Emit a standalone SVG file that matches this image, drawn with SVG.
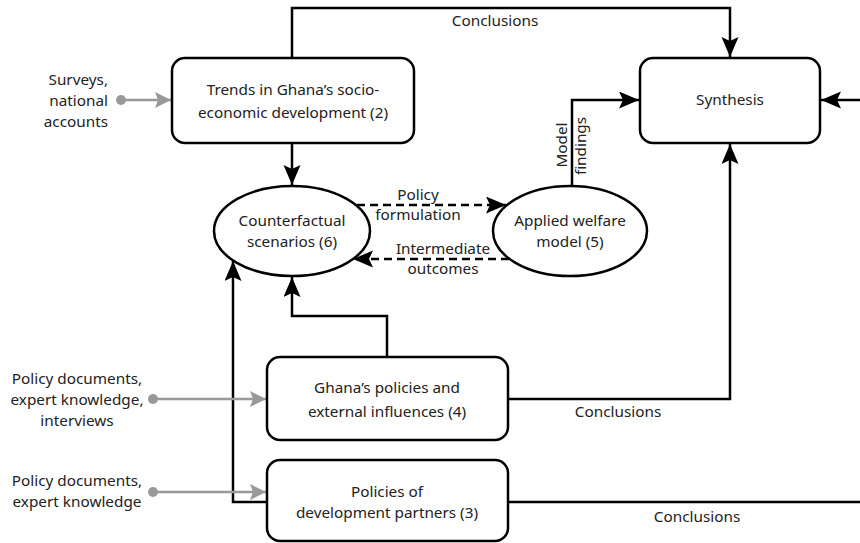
<svg xmlns="http://www.w3.org/2000/svg" width="860" height="543" viewBox="0 0 860 543">
<style>
  .box{fill:#fff;stroke:#000;stroke-width:2.5}
  .t{font-family:"Noto Sans","Open Sans",sans-serif;font-size:15.3px;fill:#222;text-anchor:middle}
  .tr{font-family:"Noto Sans","Open Sans",sans-serif;font-size:15.3px;fill:#222;text-anchor:end}
  .c{fill:none;stroke:#000;stroke-width:2.5}
  .d{fill:none;stroke:#000;stroke-width:2.5;stroke-dasharray:8 5}
  .g{fill:none;stroke:#999;stroke-width:2.5}
</style>
<defs>
  <marker id="ah" markerUnits="userSpaceOnUse" markerWidth="22" markerHeight="18" refX="20" refY="8.5" orient="auto">
    <path d="M0,0 L20,8.5 L0,17 L4,8.5 z" fill="#000"/>
  </marker>
  <marker id="gh" markerUnits="userSpaceOnUse" markerWidth="18" markerHeight="18" refX="16" refY="8" orient="auto">
    <path d="M0,0 L16,8 L0,16 L3,8 z" fill="#999"/>
  </marker>
  <marker id="gd" markerUnits="userSpaceOnUse" markerWidth="12" markerHeight="12" refX="6" refY="6" orient="auto">
    <circle cx="6" cy="6" r="5" fill="#999"/>
  </marker>
</defs>

<g id="connectors">
  <path class="c" d="M292,58 V8 H730 V57" marker-end="url(#ah)"/>
  <path class="c" d="M508,399 H730 V144" marker-end="url(#ah)"/>
  <path class="c" d="M572,186 V100 H639" marker-end="url(#ah)"/>
  <path class="c" d="M860,100 H821" marker-end="url(#ah)"/>
  <path class="c" d="M292,143 V185" marker-end="url(#ah)"/>
  <path class="c" d="M387,357 V316 H292 V277" marker-end="url(#ah)"/>
  <path class="c" d="M267,502 H233 V261" marker-end="url(#ah)"/>
  <path class="c" d="M508,502 H860"/>
  <path class="d" d="M357,205 H506" marker-end="url(#ah)"/>
  <path class="d" d="M509,259 H353" marker-end="url(#ah)"/>
  <path class="g" d="M121,100 H171" marker-start="url(#gd)" marker-end="url(#gh)"/>
  <path class="g" d="M153,399 H266" marker-start="url(#gd)" marker-end="url(#gh)"/>
  <path class="g" d="M153,492 H266" marker-start="url(#gd)" marker-end="url(#gh)"/>
  <text class="t" x="495" y="26">Conclusions</text>
  <text class="t" x="618" y="417">Conclusions</text>
  <text class="t" x="697" y="522">Conclusions</text>
  <text class="t" x="418" y="200">Policy</text>
  <text class="t" x="418" y="220">formulation</text>
  <text class="t" x="443" y="254">Intermediate</text>
  <text class="t" x="443" y="274">outcomes</text>
  <text class="t" transform="translate(567,145) rotate(-90)">Model</text>
  <text class="t" transform="translate(586,146) rotate(-90)">findings</text>
</g>

<g id="src-surveys">
  <text class="tr" x="108" y="85">Surveys,</text>
  <text class="tr" x="108" y="106">national</text>
  <text class="tr" x="108" y="127">accounts</text>
</g>
<g id="src-policy1">
  <text class="t" x="77" y="384">Policy documents,</text>
  <text class="t" x="77" y="405">expert knowledge,</text>
  <text class="t" x="77" y="426">interviews</text>
</g>
<g id="src-policy2">
  <text class="t" x="77" y="486">Policy documents,</text>
  <text class="t" x="77" y="507">expert knowledge</text>
</g>

<g id="trends">
  <rect class="box" x="172" y="58" width="242" height="85" rx="13"/>
  <text class="t" x="293" y="95">Trends in Ghana’s socio-</text>
  <text class="t" x="293" y="118">economic development (2)</text>
</g>
<g id="synthesis">
  <rect class="box" x="640" y="58" width="180" height="85" rx="13"/>
  <text class="t" x="730" y="105">Synthesis</text>
</g>
<g id="counterfactual">
  <ellipse class="box" cx="292" cy="231" rx="78" ry="45"/>
  <text class="t" x="292" y="226">Counterfactual</text>
  <text class="t" x="292" y="247">scenarios (6)</text>
</g>
<g id="welfare">
  <ellipse class="box" cx="570" cy="231" rx="77" ry="45"/>
  <text class="t" x="570" y="226">Applied welfare</text>
  <text class="t" x="570" y="247">model (5)</text>
</g>
<g id="ghana-policies">
  <rect class="box" x="267" y="357" width="241" height="83" rx="13"/>
  <text class="t" x="387" y="393">Ghana’s policies and</text>
  <text class="t" x="387" y="417">external influences (4)</text>
</g>
<g id="dev-partners">
  <rect class="box" x="267" y="460" width="241" height="81" rx="13"/>
  <text class="t" x="387" y="497">Policies of</text>
  <text class="t" x="387" y="518">development partners (3)</text>
</g>
</svg>
